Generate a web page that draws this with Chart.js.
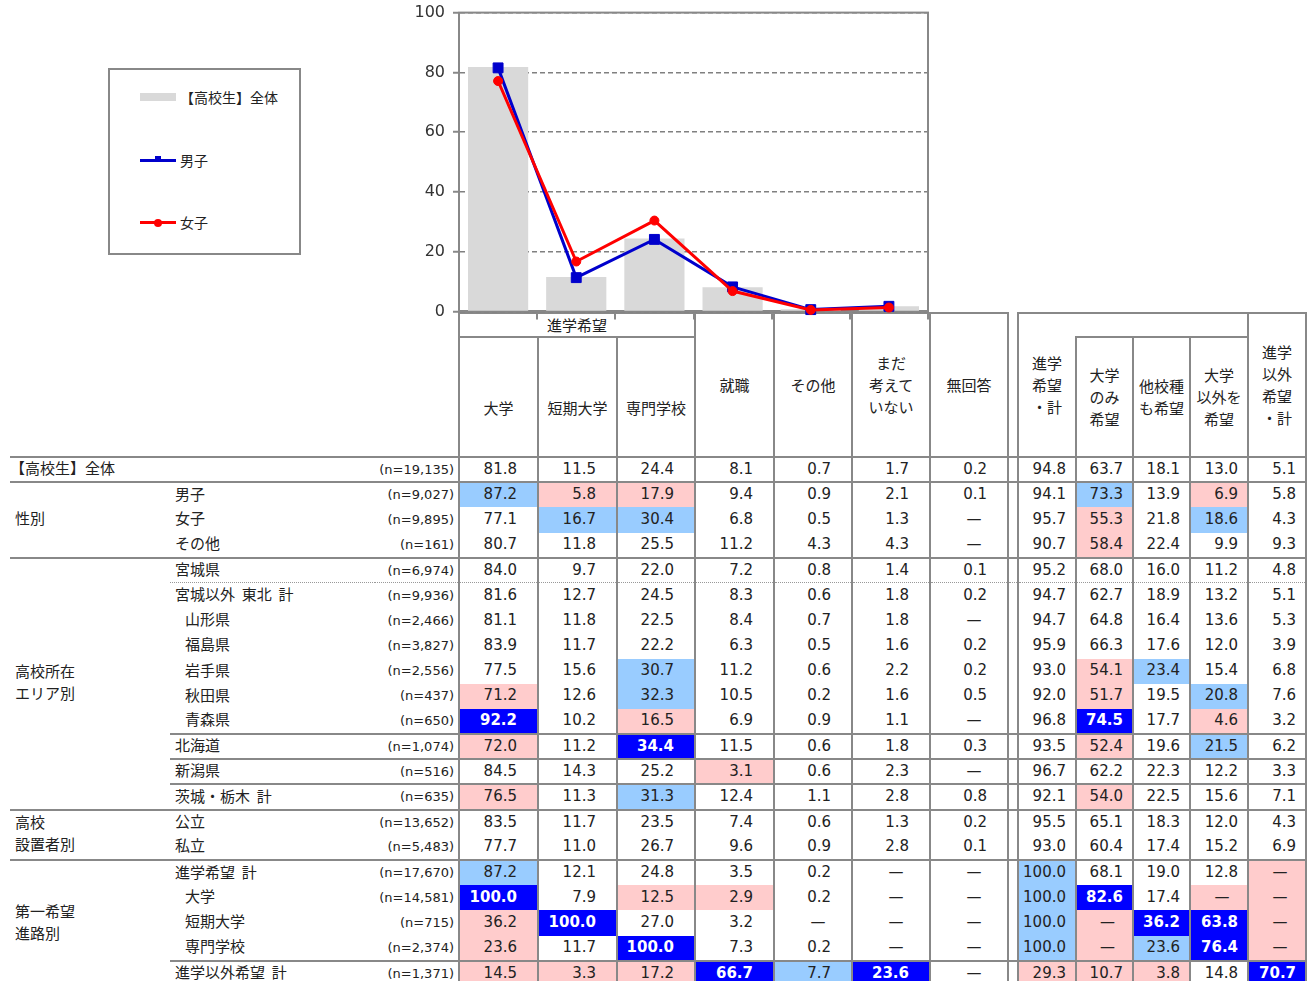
<!DOCTYPE html>
<html lang="ja">
<head>
<meta charset="UTF-8">
<title>高校生 進路希望</title>
<script src="https://cdn.jsdelivr.net/npm/chart.js@4.4.0/dist/chart.umd.min.js"></script>
<style>
* { box-sizing: border-box; margin: 0; padding: 0; }
body {
  width: 1316px; height: 981px; overflow: hidden; position: relative;
  background: #fff; color: #222;
  font-family: 'Noto Sans CJK JP', sans-serif;
}
/* chart */
#chartBox { position: absolute; left: 400px; top: -5px; width: 540px; height: 334px; z-index: 2; }
#legend {
  position: absolute; left: 108px; top: 68px; width: 193px; height: 187px;
  border: 2px solid #888;
}
#legend .items { position: absolute; left: 30px; top: -4px; }
#legend .item { height: 62.5px; display: flex; align-items: center; font-size: 14px; }
#legend .sw { position: relative; width: 36px; height: 14px; margin-right: 4px; }
/* table */
#tbl {
  position: absolute; left: 10px; top: 312px;
  border-collapse: collapse; table-layout: fixed; width: 1296px;
}
#tbl th, #tbl td { padding: 0; white-space: pre; overflow: hidden; }
#tbl th { font-weight: normal; font-size: 15px; line-height: 22px; vertical-align: middle; text-align: center; }
#tbl th.hd { border: 2px solid #888; }
#tbl th.nr { border-right: none; }
#tbl th.nl { border-left: none; }
#tbl th.low { padding-top: 22px; }
#tbl thead tr.h1 { height: 22px; }
#tbl thead tr.h2 { height: 120px; }
#tbl tbody tr { height: 25.2px; }
#tbl tr.full > td, #tbl tr.sub > td { border-top: 2px solid #888; }
#tbl tr.dot > td { border-top: 1px dotted #999; }
#tbl td { vertical-align: middle; line-height: 1; }
#tbl td.grp { font-size: 15px; line-height: 22px; padding-left: 5px; padding-bottom: 3px; }
#tbl td.lab { font-size: 15px; padding-left: 5px; padding-bottom: 4px; }
#tbl td.lab.top { padding-left: 0; }
#tbl td.lab.ind { padding-left: 15px; }
#tbl td.n { font-family: 'DejaVu Sans', sans-serif; font-size: 13px; text-align: right; padding-right: 4px; padding-bottom: 1px; }
#tbl td.v {
  font-family: 'DejaVu Sans', sans-serif; font-size: 15px; text-align: right; padding-right: 20px;
  border-left: 2px solid #888; border-right: 2px solid #888; padding-bottom: 1px;
}
#tbl td.v.r { padding-right: 9px; }
#tbl td.v.na { text-align: center; padding-right: 0; padding-left: 10px; }
#tbl td.v.r.na { padding-left: 6px; }
#tbl td.b { background: #99ccff; }
#tbl td.p { background: #ffcccc; }
#tbl td.B { background: #0000ff; color: #fff; font-weight: bold; }
</style>
</head>
<body>
<div id="legend"><div class="items"></div></div>
<div id="chartBox"><canvas id="mainChart" width="540" height="334"></canvas></div>
<table id="tbl">
  <colgroup id="cols"></colgroup>
  <thead id="thead"></thead>
  <tbody id="tbody"></tbody>
</table>

<script>
/* ---------- chart data ---------- */
const chartLabels = ['大学', '短期大学', '専門学校', '就職', 'その他', 'まだ考えていない'];
const totalValues = [81.8, 11.5, 24.4, 8.1, 0.7, 1.7];
const maleValues = [81.5, 11.3, 24.1, 8.2, 0.6, 1.7];
const femaleValues = [77.1, 16.7, 30.4, 6.8, 0.5, 1.3];
const yTicks = [0, 20, 40, 60, 80, 100];

/* ---------- table data ---------- */
const leftColumns = ['大学', '短期大学', '専門学校', '就職', 'その他', 'まだ\n考えて\nいない', '無回答'];
const leftGroupHead = '進学希望';
const rightColumns = ['進学\n希望\n・計', '大学\nのみ\n希望', '他校種\nも希望', '大学\n以外を\n希望', '進学\n以外\n希望\n・計'];

const rowLabels = ['【高校生】全体', '男子', '女子', 'その他', '宮城県', '宮城以外  東北  計',
  '山形県', '福島県', '岩手県', '秋田県', '青森県', '北海道', '新潟県', '茨城・栃木  計',
  '公立', '私立', '進学希望  計', '大学', '短期大学', '専門学校', '進学以外希望  計'];
const rowN = [19135, 9027, 9895, 161, 6974, 9936, 2466, 3827, 2556, 437, 650, 1074, 516, 635,
  13652, 5483, 17670, 14581, 715, 2374, 1371];
const groupNames = ['性別', '高校所在\nエリア別', '高校\n設置者別', '第一希望\n進路別'];
const groupStarts = [1, 4, 14, 16];
const groupSpans = [3, 10, 2, 5];
const indentedRows = [6, 7, 8, 9, 10, 17, 18, 19];

const leftValues = [
  [81.8, 11.5, 24.4, 8.1, 0.7, 1.7, 0.2],
  [87.2, 5.8, 17.9, 9.4, 0.9, 2.1, 0.1],
  [77.1, 16.7, 30.4, 6.8, 0.5, 1.3, null],
  [80.7, 11.8, 25.5, 11.2, 4.3, 4.3, null],
  [84.0, 9.7, 22.0, 7.2, 0.8, 1.4, 0.1],
  [81.6, 12.7, 24.5, 8.3, 0.6, 1.8, 0.2],
  [81.1, 11.8, 22.5, 8.4, 0.7, 1.8, null],
  [83.9, 11.7, 22.2, 6.3, 0.5, 1.6, 0.2],
  [77.5, 15.6, 30.7, 11.2, 0.6, 2.2, 0.2],
  [71.2, 12.6, 32.3, 10.5, 0.2, 1.6, 0.5],
  [92.2, 10.2, 16.5, 6.9, 0.9, 1.1, null],
  [72.0, 11.2, 34.4, 11.5, 0.6, 1.8, 0.3],
  [84.5, 14.3, 25.2, 3.1, 0.6, 2.3, null],
  [76.5, 11.3, 31.3, 12.4, 1.1, 2.8, 0.8],
  [83.5, 11.7, 23.5, 7.4, 0.6, 1.3, 0.2],
  [77.7, 11.0, 26.7, 9.6, 0.9, 2.8, 0.1],
  [87.2, 12.1, 24.8, 3.5, 0.2, null, null],
  [100.0, 7.9, 12.5, 2.9, 0.2, null, null],
  [36.2, 100.0, 27.0, 3.2, null, null, null],
  [23.6, 11.7, 100.0, 7.3, 0.2, null, null],
  [14.5, 3.3, 17.2, 66.7, 7.7, 23.6, null]
];
const rightValues = [
  [94.8, 63.7, 18.1, 13.0, 5.1],
  [94.1, 73.3, 13.9, 6.9, 5.8],
  [95.7, 55.3, 21.8, 18.6, 4.3],
  [90.7, 58.4, 22.4, 9.9, 9.3],
  [95.2, 68.0, 16.0, 11.2, 4.8],
  [94.7, 62.7, 18.9, 13.2, 5.1],
  [94.7, 64.8, 16.4, 13.6, 5.3],
  [95.9, 66.3, 17.6, 12.0, 3.9],
  [93.0, 54.1, 23.4, 15.4, 6.8],
  [92.0, 51.7, 19.5, 20.8, 7.6],
  [96.8, 74.5, 17.7, 4.6, 3.2],
  [93.5, 52.4, 19.6, 21.5, 6.2],
  [96.7, 62.2, 22.3, 12.2, 3.3],
  [92.1, 54.0, 22.5, 15.6, 7.1],
  [95.5, 65.1, 18.3, 12.0, 4.3],
  [93.0, 60.4, 17.4, 15.2, 6.9],
  [100.0, 68.1, 19.0, 12.8, null],
  [100.0, 82.6, 17.4, null, null],
  [100.0, null, 36.2, 63.8, null],
  [100.0, null, 23.6, 76.4, null],
  [29.3, 10.7, 3.8, 14.8, 70.7]
];
// significance marks: b = higher, p = lower, B = much higher, . = none
const leftMarks = ['.......', 'bpp....', '.bb....', '.......', '.......', '.......', '.......',
  '.......', '..b....', 'p.b....', 'B.p....', 'p.B....', '...p...', 'p.b....', '.......',
  '.......', 'b......', 'B.pp...', 'pB.....', 'p.B....', 'pppBbB.'];
const rightMarks = ['.....', '.b.p.', '.p.b.', '.p...', '.....', '.....', '.....', '.....',
  '.pb..', '.p.b.', '.B.p.', '.p.b.', '.....', '.p...', '.....', '.....', 'b...p',
  'bB.pp', 'bpBBp', 'bpbBp', 'ppp.B'];

/* ---------- table layout ---------- */
const colWidths = [160, 205, 84, 79, 79, 78, 79, 78, 78, 78, 10, 58, 57, 57, 58, 58];
const rowLines = ['full', 'full', '', '', 'full', 'dot', '', '', '', '', '', 'sub', 'sub', 'sub',
  'full', '', 'full', '', '', '', 'sub'];

document.getElementById('cols').innerHTML = colWidths.map(w => `<col style="width:${w}px">`).join('');

const br = s => s.replace(/\n/g, '<br>');
let h1 = '<tr class="h1"><th colspan="3" rowspan="2"></th>';
h1 += `<th colspan="3" class="hd">${leftGroupHead}</th>`;
leftColumns.slice(3).forEach(c => { h1 += `<th rowspan="2" class="hd">${br(c)}</th>`; });
h1 += '<th rowspan="2"></th>';
h1 += `<th rowspan="2" class="hd nr">${br(rightColumns[0])}</th>`;
h1 += '<th colspan="3" class="hd nl"></th>';
h1 += `<th rowspan="2" class="hd">${br(rightColumns[4])}</th></tr>`;
let h2 = '<tr class="h2">';
leftColumns.slice(0, 3).forEach(c => { h2 += `<th class="hd low">${br(c)}</th>`; });
rightColumns.slice(1, 4).forEach(c => { h2 += `<th class="hd">${br(c)}</th>`; });
h2 += '</tr>';
document.getElementById('thead').innerHTML = h1 + h2;

const cell = (v, m, extra) => {
  const cls = ['v', extra];
  if (m !== '.') cls.push(m);
  if (v === null) { cls.push('na'); return `<td class="${cls.join(' ')}">—</td>`; }
  return `<td class="${cls.join(' ')}">${v.toFixed(1)}</td>`;
};

let body = '';
let g = 0;
rowLabels.forEach((label, i) => {
  body += `<tr class="${rowLines[i]}">`;
  if (i === 0) {
    body += `<td class="lab top" colspan="2">${label}</td>`;
  } else {
    if (groupStarts[g] === i) {
      body += `<td class="grp" rowspan="${groupSpans[g]}">${br(groupNames[g])}</td>`;
      g++;
    }
    body += `<td class="lab${indentedRows.includes(i) ? ' ind' : ''}">${label}</td>`;
  }
  body += `<td class="n">(n=${rowN[i].toLocaleString('en-US')})</td>`;
  leftValues[i].forEach((v, j) => { body += cell(v, leftMarks[i][j], ''); });
  body += '<td></td>';
  rightValues[i].forEach((v, j) => { body += cell(v, rightMarks[i][j], 'r'); });
  body += '</tr>';
});
document.getElementById('tbody').innerHTML = body;

/* ---------- chart ---------- */
const frame = {
  id: 'frame',
  beforeDatasetsDraw(c) {
    const a = c.chartArea, ctx = c.ctx;
    ctx.save();
    ctx.strokeStyle = '#888';
    ctx.lineWidth = 2;
    ctx.strokeRect(a.left, a.top, a.right - a.left, a.bottom - a.top);
    ctx.restore();
  }
};

const chart = new Chart(document.getElementById('mainChart'), {
  data: {
    labels: chartLabels,
    datasets: [
      {
        type: 'bar', label: '【高校生】全体', data: totalValues,
        backgroundColor: '#d9d9d9', barPercentage: 0.77, categoryPercentage: 1, order: 3
      },
      {
        type: 'line', label: '男子', data: maleValues,
        borderColor: '#0000cc', backgroundColor: '#0000cc', borderWidth: 3,
        pointStyle: 'rect', pointRadius: 7, pointHoverRadius: 7, pointBorderWidth: 1,
        order: 2, clip: false
      },
      {
        type: 'line', label: '女子', data: femaleValues,
        borderColor: '#ff0000', backgroundColor: '#ff0000', borderWidth: 3,
        pointStyle: 'circle', pointRadius: 4.5, pointHoverRadius: 4.5, pointBorderWidth: 1,
        order: 1, clip: false
      }
    ]
  },
  options: {
    responsive: false,
    animation: false,
    layout: { padding: { top: 7, right: 12, left: 0, bottom: 0 } },
    plugins: { legend: { display: false }, tooltip: { enabled: false } },
    scales: {
      x: {
        offset: true,
        ticks: { display: false },
        grid: { offset: true, drawOnChartArea: false, color: '#888', lineWidth: 2, tickLength: 8 },
        border: { color: '#888', width: 2 },
        afterFit: s => { s.height = 9; }
      },
      y: {
        min: yTicks[0], max: yTicks[yTicks.length - 1],
        afterBuildTicks: s => { s.ticks = yTicks.map(v => ({ value: v })); },
        ticks: { color: '#333', font: { family: 'DejaVu Sans', size: 16 }, padding: 8 },
        grid: { color: '#808080', lineWidth: 1.5, tickLength: 6, tickColor: '#888', tickWidth: 2, tickBorderDash: [] },
        border: { color: '#888', width: 2, dash: [5, 3] },
        afterFit: s => { s.width = 59; }
      }
    }
  },
  plugins: [frame]
});

/* ---------- legend from datasets ---------- */
const items = document.querySelector('#legend .items');
chart.data.datasets.forEach(ds => {
  const item = document.createElement('div');
  item.className = 'item';
  const sw = document.createElement('span');
  sw.className = 'sw';
  if (ds.type === 'bar') {
    sw.innerHTML = `<i style="position:absolute;left:0;right:0;top:3px;height:8px;background:${ds.backgroundColor}"></i>`;
  } else {
    const mk = ds.pointStyle === 'rect'
      ? `<i style="position:absolute;left:15px;top:3px;width:6px;height:6px;background:${ds.borderColor}"></i>`
      : `<i style="position:absolute;left:14px;top:3.5px;width:8px;height:8px;border-radius:50%;background:${ds.borderColor}"></i>`;
    sw.innerHTML = `<i style="position:absolute;left:0;right:0;top:6px;height:3px;background:${ds.borderColor}"></i>` + mk;
  }
  const tx = document.createElement('span');
  tx.textContent = ds.label;
  item.appendChild(sw);
  item.appendChild(tx);
  items.appendChild(item);
});
</script>
</body>
</html>
